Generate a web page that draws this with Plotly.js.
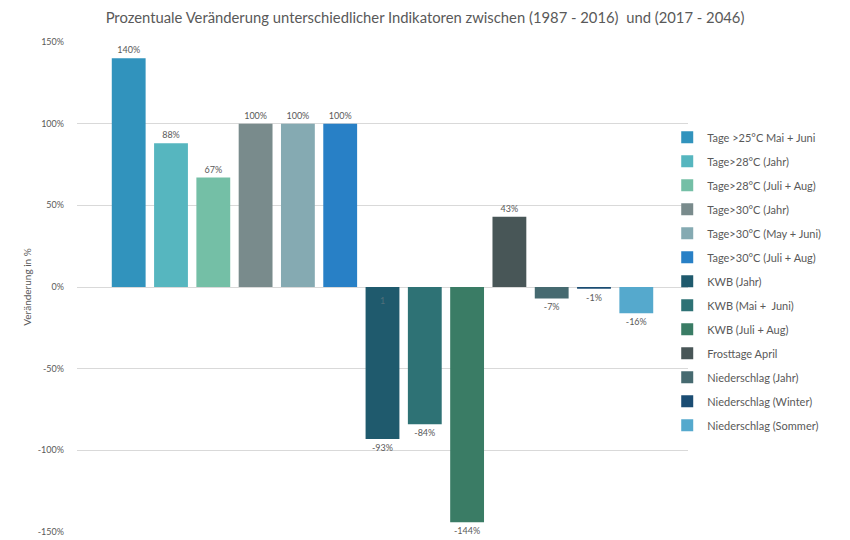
<!DOCTYPE html>
<html>
<head>
<meta charset="utf-8">
<script src="https://cdn.plot.ly/plotly-3.0.1.min.js"></script>
<style>html,body{margin:0;padding:0;background:#fff;}#chart{width:850px;height:540px;}</style>
</head>
<body>
<div id="chart"></div>
<script>
const seriesNames = [
  "Tage >25°C Mai + Juni",
  "Tage>28°C (Jahr)",
  "Tage>28°C (Juli + Aug)",
  "Tage>30°C (Jahr)",
  "Tage>30°C (May + Juni)",
  "Tage>30°C (Juli + Aug)",
  "KWB (Jahr)",
  "KWB (Mai +  Juni)",
  "KWB (Juli + Aug)",
  "Frosttage April",
  "Niederschlag (Jahr)",
  "Niederschlag (Winter)",
  "Niederschlag (Sommer)"
];
const values = [140, 88, 67, 100, 100, 100, -93, -84, -144, 43, -7, -1, -16];
const colors = ["#3193bd", "#56b6bf", "#74bfa6", "#798b8c", "#85aab2", "#2880c6",
                "#1f5a6d", "#2e7275", "#3a7c65", "#485657", "#466a70", "#1b4d73", "#55a9cd"];
const category = [""];
const yTicks = [-150, -100, -50, 0, 50, 100, 150];

const traces = seriesNames.map((name, i) => ({
  type: "bar",
  name: name,
  x: category,
  y: [values[i]],
  text: [values[i] + "%"],
  textposition: "outside",
  cliponaxis: false,
  textfont: {family: "Lato, 'Open Sans', sans-serif", size: 9, color: "#595959"},
  marker: {color: colors[i]},
  legendgroup: "g" + i,
  hoverinfo: "name+y"
}));

const layout = {
  width: 850, height: 540,
  margin: {l: 77, r: 162, t: 42, b: 8},
  paper_bgcolor: "#ffffff",
  plot_bgcolor: "#ffffff",
  font: {family: "Lato, 'Open Sans', sans-serif", color: "#595959"},
  title: {
    text: "Prozentuale Veränderung unterschiedlicher Indikatoren zwischen (1987 - 2016)  und (2017 - 2046)",
    font: {size: 14.8, color: "#595959", family: "Lato, 'Open Sans', sans-serif"},
    x: 0.5, xanchor: "center", y: 0.967, yanchor: "middle"
  },
  barmode: "group",
  bargap: 0.1,
  bargroupgap: 0.2,
  xaxis: {
    type: "category",
    range: [-0.5, 0.5],
    showticklabels: false,
    showgrid: false,
    zeroline: false,
    showline: false,
    fixedrange: true
  },
  yaxis: {
    range: [-150, 150],
    tickvals: yTicks,
    ticktext: yTicks.map(v => v + "%"),
    tickfont: {size: 9, color: "#595959"},
    showgrid: true,
    gridcolor: "#d9d9d9",
    gridwidth: 1,
    zeroline: true,
    zerolinecolor: "#d9d9d9",
    zerolinewidth: 1,
    showline: false,
    ticks: "",
    ticklabelstandoff: 12,
    title: {text: "Veränderung in %", font: {size: 10, color: "#595959"}, standoff: 4}
  },
  legend: {
    x: 0.966, xanchor: "left",
    y: 0.835, yanchor: "top",
    traceorder: "grouped",
    tracegroupgap: 5,
    font: {size: 11, color: "#595959"},
    bgcolor: "rgba(0,0,0,0)"
  },
  annotations: [{
    text: "1", xref: "paper", yref: "y", x: 0.5, y: -8.5,
    showarrow: false, font: {size: 9, color: "#4f6f7a"}
  }]
};

Plotly.newPlot("chart", traces, layout, {displayModeBar: false, staticPlot: true});
</script>
</body>
</html>
